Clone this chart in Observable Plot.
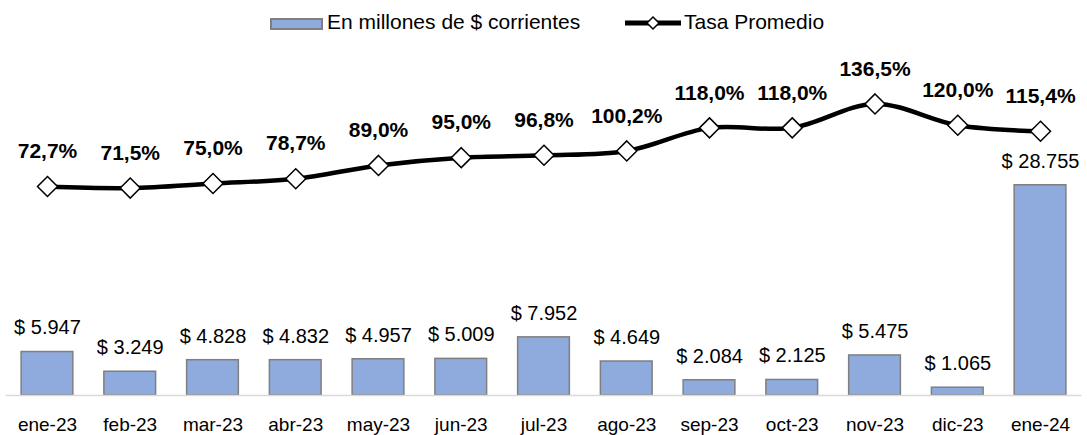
<!DOCTYPE html>
<html><head><meta charset="utf-8">
<script src="https://cdn.jsdelivr.net/npm/d3@7"></script>
<script src="https://cdn.jsdelivr.net/npm/@observablehq/plot@0.6"></script>
<style>
body{margin:0;background:#fff;font-family:"Liberation Sans",Arial,sans-serif;}
#wrap{position:relative;width:1087px;height:435px;overflow:hidden;}
#legend{position:absolute;left:0;top:0;width:1087px;height:38px;font-size:21px;color:#000;}
.lg{position:absolute;top:10px;line-height:24px;white-space:nowrap;}
#chart{position:absolute;left:0;top:38px;}
</style></head><body>
<div id="wrap">
  <div id="legend">
    <div style="position:absolute;left:270px;top:18px;width:49px;height:8px;background:#8faadc;border:2px solid #7f7f7f;"></div>
    <div class="lg" style="left:327px;">En millones de $ corrientes</div>
    <svg style="position:absolute;left:624px;top:13px" width="58" height="20">
      <line x1="1" y1="10" x2="57" y2="10" stroke="#000" stroke-width="5"/>
      <path d="M29,4 L35,10 L29,16 L23,10 Z" fill="#fff" stroke="#000" stroke-width="1.5"/>
    </svg>
    <div class="lg" style="left:684px;">Tasa Promedio</div>
  </div>
  <div id="chart"></div>
</div>
<script>
const months = ["ene-23","feb-23","mar-23","abr-23","may-23","jun-23","jul-23","ago-23","sep-23","oct-23","nov-23","dic-23","ene-24"];
const montos = [5947,3249,4828,4832,4957,5009,7952,4649,2084,2125,5475,1065,28755];
const tasas = [72.7,71.5,75.0,78.7,89.0,95.0,96.8,100.2,118.0,118.0,136.5,120.0,115.4];

// primary axis (millones) and secondary axis (tasa %) domains
const yDomain = [0, 45000];
const y2Domain = [-88.7, 165.4];
const toPrimary = p => (p - y2Domain[0]) / (y2Domain[1] - y2Domain[0]) * (yDomain[1] - yDomain[0]) + yDomain[0];

const loc = d3.formatLocale({decimal: ",", thousands: ".", grouping: [3], currency: ["$ ", ""]});
const fMonto = loc.format("$,d");
const fPct = loc.format(".1f");

const data = months.map((m, i) => ({mes: m, monto: montos[i], tasa: tasas[i], tasaY: toPrimary(tasas[i])}));

const chart = Plot.plot({
  width: 1087, height: 397,
  marginTop: 28, marginBottom: 40, marginLeft: 5.6, marginRight: 5.6,
  style: {fontFamily: "Liberation Sans, Arial, sans-serif", fontSize: "19px", color: "#000", background: "#fff"},
  x: {domain: months, paddingInner: 0.375, paddingOuter: 0.1875, round: false, label: null, tickSize: 0, tickPadding: 22},
  y: {domain: yDomain, axis: null},
  marks: [
    Plot.barY(data, {x: "mes", y: "monto", fill: "#8faadc", stroke: "#7f7f7f", strokeWidth: 1.5}),
    Plot.ruleY([0], {stroke: "#d9d9d9", strokeWidth: 1.5}),
    Plot.text(data, {x: "mes", y: "monto", text: d => fMonto(d.monto), dy: -24, lineAnchor: "middle", fontSize: 20, fill: "#000"}),
    Plot.line(data, {x: "mes", y: "tasaY", stroke: "#000", strokeWidth: 4.5, curve: "catmull-rom"}),
    Plot.dot(data, {x: "mes", y: "tasaY", symbol: "diamond2", r: 9, fill: "#fff", stroke: "#000", strokeWidth: 1.5}),
    Plot.text(data, {x: "mes", y: "tasaY", text: d => fPct(d.tasa) + "%", dy: -35, lineAnchor: "middle", fontSize: 21, fontWeight: "bold", fill: "#000"})
  ]
});
document.getElementById("chart").appendChild(chart);
</script>
</body></html>
